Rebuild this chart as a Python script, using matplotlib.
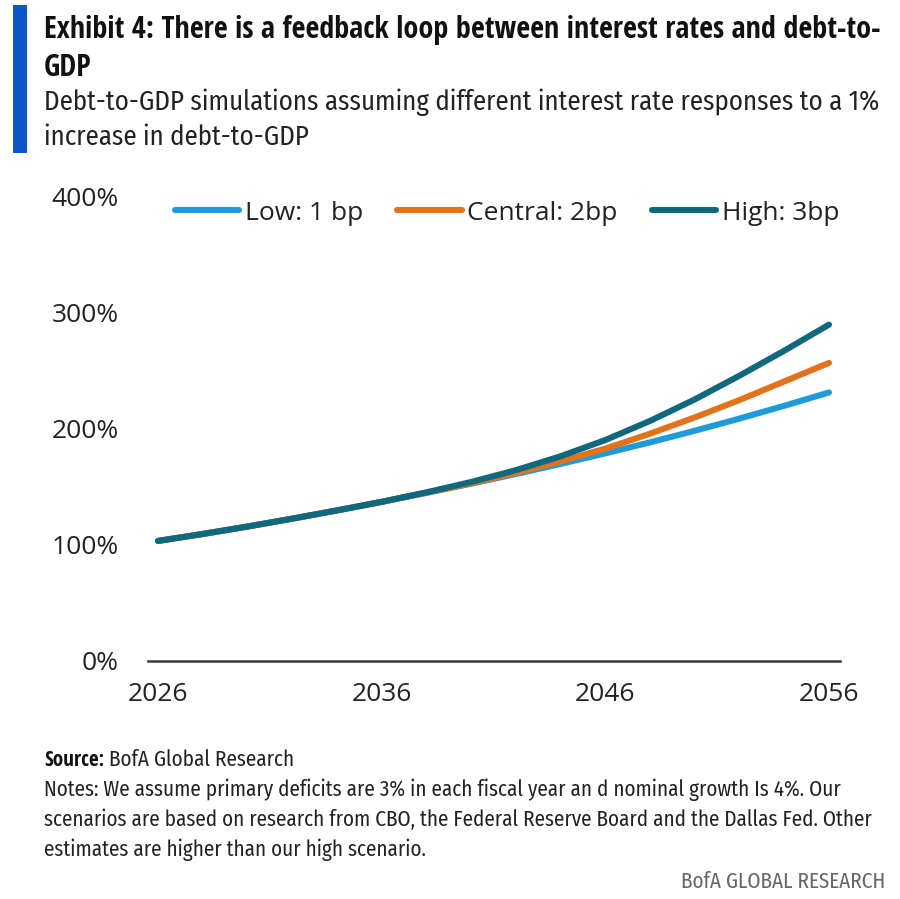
import matplotlib
matplotlib.use('Agg')
import matplotlib.pyplot as plt
from matplotlib import font_manager

# ---------------- data ----------------
years = [2026, 2028, 2030, 2032, 2034, 2036, 2038, 2040,
         2042, 2044, 2046, 2048, 2050, 2052, 2054, 2056]
low = [103.5, 109.5, 115.9, 122.7, 129.8, 137.2, 144.9, 152.9,
       161.2, 169.9, 179.0, 188.5, 198.5, 209.0, 220.0, 231.5]
central = [103.5, 109.5, 115.9, 122.7, 129.8, 137.2, 145.1, 153.2,
           162.2, 172.1, 183.1, 196.0, 210.0, 225.0, 241.0, 257.0]
high = [103.5, 109.5, 115.9, 122.7, 129.8, 137.2, 145.4, 154.3,
        164.5, 176.5, 190.5, 207.0, 225.5, 246.0, 267.5, 290.0]
series_names = ['Low: 1 bp', 'Central: 2bp', 'High: 3bp']
y_ticks = [0, 100, 200, 300, 400]
y_tick_labels = ['0%', '100%', '200%', '300%', '400%']
x_ticks = [2026, 2036, 2046, 2056]
x_tick_labels = ['2026', '2036', '2046', '2056']

title_lines = ['Exhibit 4: There is a feedback loop between interest rates and debt-to-', 'GDP']
subtitle_lines = ['Debt-to-GDP simulations assuming different interest rate responses to a 1%',
                  'increase in debt-to-GDP']
source_bold = 'Source:'
source_rest = ' BofA Global Research'
notes_lines = ['Notes: We assume primary deficits are 3% in each fiscal year an d nominal growth Is 4%. Our',
               'scenarios are based on research from CBO, the Federal Reserve Board and the Dallas Fed. Other',
               'estimates are higher than our high scenario.']
brand = 'BofA GLOBAL RESEARCH'

colors = ['#1E9BDA', '#E2731C', '#0F687D']

# ---------------- fonts ----------------
fl = font_manager.fontManager.ttflist
names = {f.name for f in fl}


def wnum(w):
    try:
        return int(w)
    except Exception:
        return {'light': 300, 'normal': 400, 'regular': 400, 'book': 400,
                'medium': 500, 'bold': 700}.get(str(w).lower(), 400)


def regular_weights(n, stretch=None):
    return sorted({wnum(f.weight) for f in fl if f.name == n and f.style == 'normal'
                   and wnum(f.weight) <= 450 and (stretch is None or f.stretch == stretch)})


# bold condensed
bold_fam = 'Open Sans Condensed' if 'Open Sans Condensed' in names else 'Open Sans'

# regular condensed
reg_fam, reg_weight, reg_stretch = 'Open Sans', 400, 'normal'
found = False
for cand in ['Open Sans Condensed', 'Noto Sans Condensed', 'Open Sans SemiCondensed',
             'Fira Sans Condensed', 'Roboto Condensed', 'Archivo Narrow', 'Asap Condensed']:
    ws = regular_weights(cand)
    if ws:
        reg_fam, reg_weight = cand, (400 if 400 in ws else ws[-1])
        found = True
        break
if not found:
    for cand in ['Open Sans', 'Noto Sans']:
        ws = regular_weights(cand, 'condensed')
        if ws:
            reg_fam, reg_weight, reg_stretch = cand, (400 if 400 in ws else ws[-1]), 'condensed'
            break

BOLD = dict(family=[bold_fam, 'DejaVu Sans'], fontweight='bold')
REG = dict(family=[reg_fam, 'DejaVu Sans'], fontweight=reg_weight, fontstretch=reg_stretch)
WIDE = ['Open Sans', 'DejaVu Sans']
plt.rcParams['font.family'] = WIDE

W, H = 900, 899
fig = plt.figure(figsize=(W / 100, H / 100), dpi=100)
fig.patch.set_facecolor('white')


def fx(px):
    return px / W


def fy(py):
    return 1 - py / H


renderer = fig.canvas.get_renderer()


def fit_size(s, target_w, props, size0=20):
    t = fig.text(0, 0, s, fontsize=size0, **props)
    w = t.get_window_extent(renderer).width
    t.remove()
    return size0 * target_w / w


# ---------------- axes ----------------
ax_left, ax_right, ax_top, ax_bot = 148, 840, 197, 661
ax = fig.add_axes([fx(ax_left), fy(ax_bot), (ax_right - ax_left) / W, (ax_bot - ax_top) / H])
ppy = (829 - 158) / 30.0
ax.set_xlim(2026 - (158 - ax_left) / ppy, 2056 + (ax_right - 829) / ppy)
ax.set_ylim(0, 400)

for vals, name, c in zip([low, central, high], series_names, colors):
    ax.plot(years, vals, color=c, lw=4.4, solid_capstyle='round',
            solid_joinstyle='round', label=name, clip_on=False)

for s in ['top', 'right', 'left']:
    ax.spines[s].set_visible(False)
ax.spines['bottom'].set_color('#3a3a3a')
ax.spines['bottom'].set_linewidth(1.8)
ax.set_yticks(y_ticks)
ax.set_yticklabels(y_tick_labels)
ax.set_xticks(x_ticks)
ax.set_xticklabels(x_tick_labels)
ax.tick_params(axis='y', length=0, pad=21, labelsize=19, labelcolor='#222222')
ax.tick_params(axis='x', length=0, pad=15, labelsize=19, labelcolor='#222222')
for lab in ax.get_xticklabels() + ax.get_yticklabels():
    lab.set_family(WIDE)

leg = ax.legend(loc='center', bbox_to_anchor=(fx(507), fy(213)), bbox_transform=fig.transFigure,
                ncol=3, frameon=False, fontsize=19, handlelength=2.45, handletextpad=0.2,
                columnspacing=1.3, borderaxespad=0, borderpad=0)
for t in leg.get_texts():
    t.set_color('#222222')
    t.set_family(WIDE)

# ---------------- header ----------------
fig.add_artist(plt.Rectangle((fx(13), fy(153)), 14 / W, 148 / H, transform=fig.transFigure,
                             color='#0A55C8', lw=0))

ts = fit_size(title_lines[0], 836, BOLD)
for i, line in enumerate(title_lines):
    fig.text(fx(44), fy(38 + 38 * i), line, fontsize=ts, color='#111111',
             va='baseline', ha='left', **BOLD)

ss = fit_size(subtitle_lines[0], 838, REG)
for i, line in enumerate(subtitle_lines):
    fig.text(fx(44), fy(110 + 35 * i), line, fontsize=ss, color='#222222',
             va='baseline', ha='left', **REG)

# ---------------- footer ----------------
ns = fit_size(notes_lines[0], 799, REG)
tb = fig.text(fx(44), fy(766), source_bold, fontsize=ns, color='#111111',
              va='baseline', ha='left', **BOLD)
bw = tb.get_window_extent(renderer).width
fig.text(fx(44 + bw), fy(766), source_rest, fontsize=ns, color='#222222',
         va='baseline', ha='left', **REG)
for i, line in enumerate(notes_lines):
    fig.text(fx(44), fy(796 + 30 * i), line, fontsize=ns, color='#222222',
             va='baseline', ha='left', **REG)
fig.text(fx(885), fy(888), brand, fontsize=ns, color='#666666',
         va='baseline', ha='right', **REG)

fig.savefig('out.png', dpi=100, facecolor='white')
